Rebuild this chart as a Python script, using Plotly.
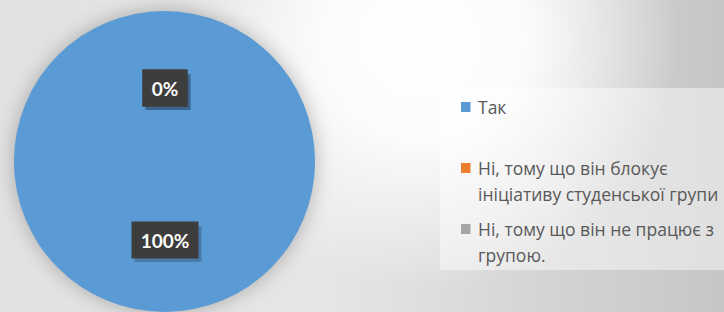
import base64
import plotly.graph_objects as go

# ---------------- data ----------------
categories = [
    "Так",
    "Ні, тому що він блокує ініціативу студенської групи",
    "Ні, тому що він не працює з групою.",
]
legend_lines = [
    ["Так"],
    ["Ні, тому що він блокує", "ініціативу студенської групи"],
    ["Ні, тому що він не працює з", "групою."],
]
values = [100, 0, 0]
colors = ["#5B9BD5", "#ED7D31", "#A5A5A5"]

# ---------------- geometry helpers (pixels -> paper) ----------------
W, H = 724, 312


def px(x):
    return x / W


def py(y):
    return 1 - y / H


PIE_L, PIE_R, PIE_T, PIE_B = 13, 316, 11, 312
cx = (PIE_L + PIE_R) / 2
r = min(PIE_R - PIE_L, PIE_B - PIE_T) / 2
cy = H - r

# ---------------- background (gradient + pie glow) ----------------
svg = f"""<svg xmlns='http://www.w3.org/2000/svg' width='{W}' height='{H}' viewBox='0 0 {W} {H}'>
<defs>
<linearGradient id='lg' x1='0' y1='0' x2='1' y2='0'>
<stop offset='0' stop-color='#e2e2e2'/>
<stop offset='0.45' stop-color='#e6e6e6'/>
<stop offset='1' stop-color='#c6c6c6'/>
</linearGradient>
<radialGradient id='rg' gradientUnits='userSpaceOnUse' cx='430' cy='40' r='250'>
<stop offset='0' stop-color='#ffffff' stop-opacity='1'/>
<stop offset='0.4' stop-color='#ffffff' stop-opacity='0.9'/>
<stop offset='1' stop-color='#ffffff' stop-opacity='0'/>
</radialGradient>
<filter id='bl' x='-30%' y='-30%' width='160%' height='160%'><feGaussianBlur stdDeviation='9'/></filter>
</defs>
<rect width='{W}' height='{H}' fill='url(#lg)'/>
<rect width='{W}' height='{H}' fill='url(#rg)'/>
<circle cx='{cx}' cy='{cy}' r='{r + 2}' fill='#000' fill-opacity='0.22' filter='url(#bl)'/>
</svg>"""
bg_src = "data:image/svg+xml;base64," + base64.b64encode(svg.encode("utf-8")).decode()

fig = go.Figure(
    go.Pie(
        labels=categories,
        values=values,
        marker=dict(colors=colors, line=dict(width=0)),
        sort=False,
        direction="clockwise",
        textinfo="none",
        hoverinfo="label+percent",
        showlegend=False,
        domain=dict(x=[px(PIE_L), px(PIE_R)], y=[0, 2 * r / H]),
    )
)

shapes = []
annotations = []

# ---------------- data labels ----------------
total = sum(values)
label_offsets = [78.5, -73.5, -73.5]  # vertical offset from pie centre (px)
for v, off in zip(values, label_offsets):
    txt = f"{round(v / total * 100)}%"
    w = 11 * len(txt) + 22
    h = 36
    ly = cy + off
    # soft shadow of the label box
    shapes.append(dict(type="rect", xref="paper", yref="paper",
                       x0=px(cx - w / 2 + 3), x1=px(cx + w / 2 + 4),
                       y0=py(ly - h / 2 + 4), y1=py(ly + h / 2 + 4),
                       fillcolor="rgba(40,60,90,0.35)", line=dict(width=0), layer="above"))
    annotations.append(dict(
        x=px(cx), y=py(ly), xref="paper", yref="paper",
        text=f"<b>{txt}</b>", showarrow=False,
        font=dict(family="Lato", size=19, color="#ffffff"),
        bgcolor="#3d3d3d", width=w, height=h, borderpad=0,
        xanchor="center", yanchor="middle",
    ))

# ---------------- legend (manual, Excel-like spacing) ----------------
shapes.append(dict(type="rect", xref="paper", yref="paper",
                   x0=px(440), x1=1, y0=py(270), y1=py(88),
                   fillcolor="rgba(255,255,255,0.45)", line=dict(width=0), layer="below"))
item_y = [107, 168, 229]
line_gap = 26
for lines, col, y0 in zip(legend_lines, colors, item_y):
    shapes.append(dict(type="rect", xref="paper", yref="paper",
                       x0=px(461), x1=px(470.5), y0=py(y0 + 5), y1=py(y0 - 5),
                       fillcolor=col, line=dict(width=0), layer="above"))
    for i, t in enumerate(lines):
        annotations.append(dict(
            x=px(476), y=py(y0 + i * line_gap), xref="paper", yref="paper",
            text=t, showarrow=False, xanchor="left", yanchor="middle",
            font=dict(family="Open Sans", size=17.5, color="#595959"),
        ))

fig.update_layout(
    width=W, height=H,
    margin=dict(l=0, r=0, t=0, b=0),
    paper_bgcolor="#ffffff",
    plot_bgcolor="rgba(0,0,0,0)",
    images=[dict(source=bg_src, xref="paper", yref="paper", x=0, y=1,
                 sizex=1, sizey=1, xanchor="left", yanchor="top",
                 sizing="stretch", layer="below")],
    shapes=shapes,
    annotations=annotations,
    showlegend=False,
)

fig.write_html(
    "out.html",
    config={"displayModeBar": False},
    post_script="document.body.style.margin='0';document.body.style.overflow='hidden';",
)
